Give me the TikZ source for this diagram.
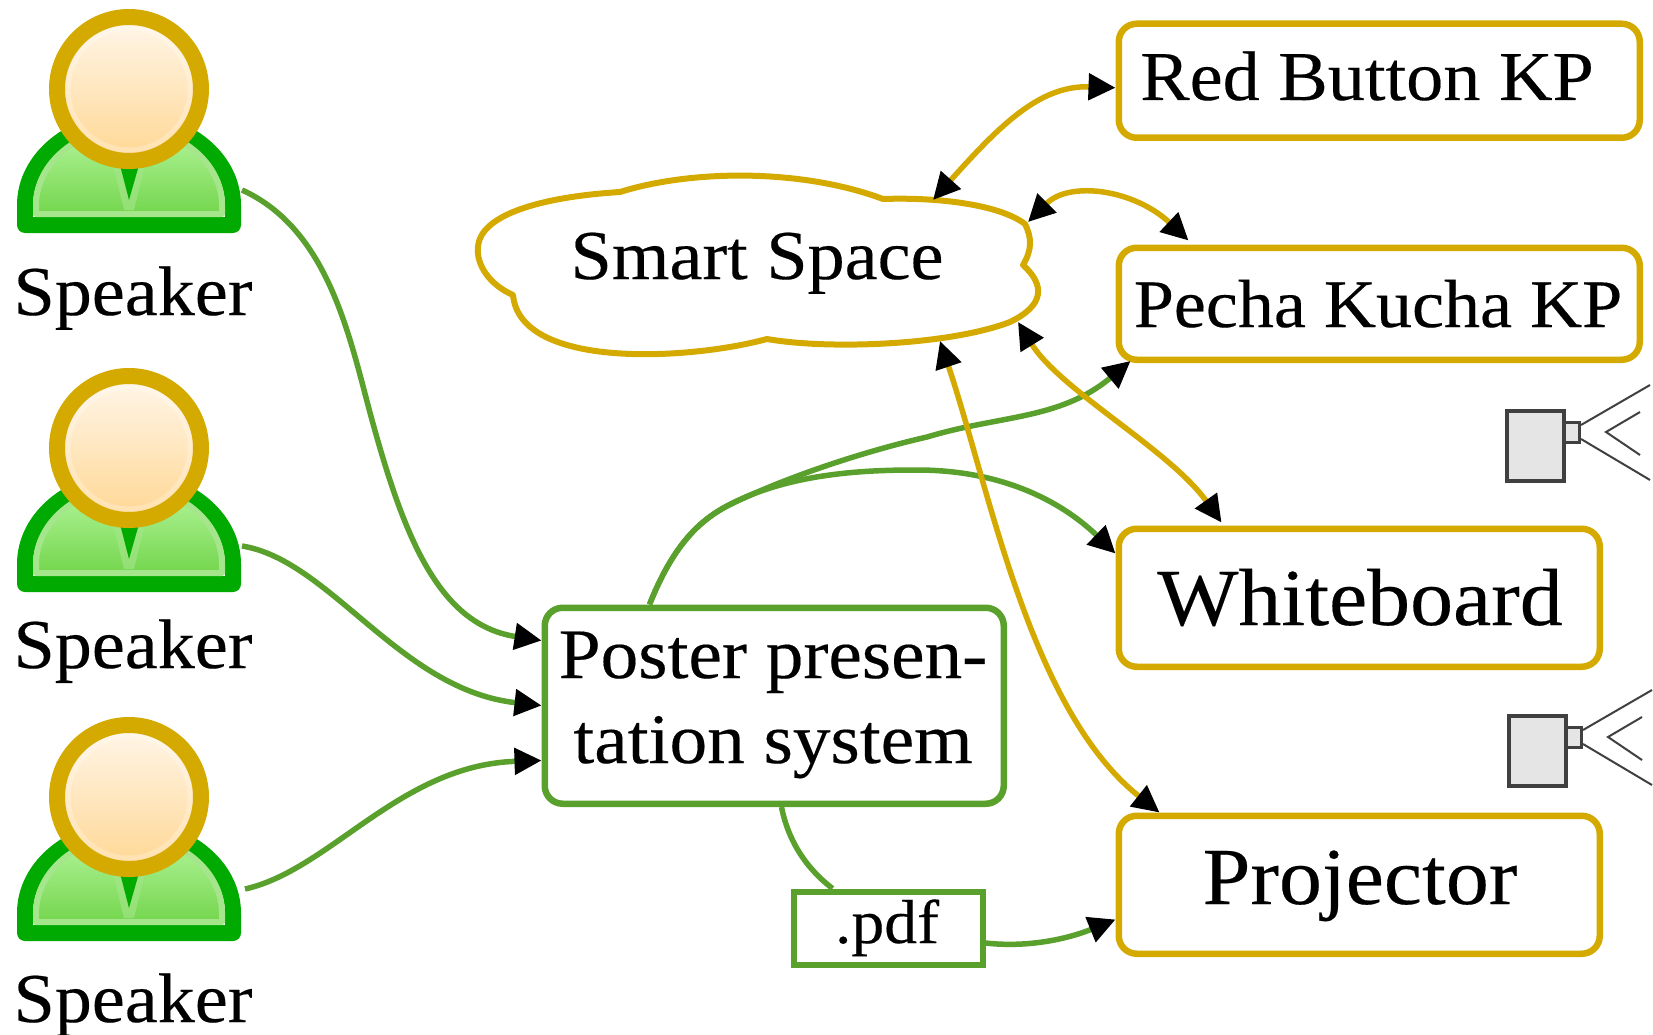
\documentclass[tikz,border=0pt]{standalone}
\usepackage{fontspec}
\setmainfont{Liberation Serif}[FakeStretch=1.06,FakeBold=0.25]
\usetikzlibrary{arrows.meta}
\definecolor{gold}{HTML}{D4AA00}
\definecolor{grn}{HTML}{5AA02C}
\definecolor{camgray}{HTML}{404040}
\definecolor{bodygreen}{HTML}{00AA00}
\definecolor{rimgreen}{HTML}{A5E68C}
\definecolor{toplight}{HTML}{B4F59B}
\definecolor{botlight}{HTML}{74D64E}
\definecolor{headtop}{HTML}{FFF6EA}
\definecolor{headbot}{HTML}{FFD793}
\tikzset{
 x=1pt,y=-1pt,
 kp/.style={draw=gold,line width=6.5pt,rounded corners=18pt,fill=white,inner sep=0pt,anchor=north west},
 sys/.style={draw=grn,line width=6.5pt,rounded corners=18pt,fill=white,inner sep=0pt,anchor=north west},
 gline/.style={draw=grn,line width=5.5pt},
 yline/.style={draw=gold,line width=5.5pt},
 onetip/.style={-{Triangle[black,length=27pt,width=26pt]}},
 bitip/.style={{Triangle[black,length=27pt,width=26pt]}-{Triangle[black,length=27pt,width=26pt]}},
 speakertext/.style={anchor=base,inner sep=0pt,font=\fontsize{70}{84}\selectfont},
 personpic/.pic={
  \path[draw=bodygreen,line width=16pt,line join=round,fill=white]
    (25,225) -- (25,205) .. controls (25,158) and (72,120) .. (129,120) .. controls (186,120) and (233,158) .. (233,205) -- (233,225) -- cycle;
  \path[top color=toplight,bottom color=botlight,draw=rimgreen,line width=6pt,line join=round]
    (36,214) -- (36,205) .. controls (36,163) and (78,128) .. (129,128) .. controls (180,128) and (222,163) .. (222,205) -- (222,214) -- cycle;
  \fill[rimgreen,opacity=.6] (113,165) -- (145,165) -- (134,210) -- (124,210) -- cycle;
  \fill[bodygreen] (120,165) -- (139,165) -- (129,200) -- cycle;
  \path[top color=headtop,bottom color=headbot,draw=gold,line width=16pt] (129,89) circle[radius=72pt];
  \draw[white,opacity=.25,line width=5pt] (129,89) circle[radius=61pt];
 },
 campic/.pic={
  \draw[camgray,line width=4pt,fill=black!10] (1507,411) rectangle (1564,481);
  \draw[camgray,line width=3pt,fill=black!10] (1564,422) rectangle (1579,442);
  \draw[camgray,line width=2pt] (1581,425) -- (1650,385);
  \draw[camgray,line width=2pt] (1581,439) -- (1650,480);
  \draw[camgray,line width=2pt] (1640,412) -- (1606,432) -- (1640,455);
 }
}
\begin{document}
\begin{tikzpicture}
\useasboundingbox (0,0) rectangle (1653,1035);

\pic at (0,0) {personpic};
\pic at (0,359) {personpic};
\pic at (0,708) {personpic};
\node[speakertext] (sp1) at (133,315) {Speaker};
\node[speakertext] (sp2) at (133,668) {Speaker};
\node[speakertext] (sp3) at (133,1022) {Speaker};

\pic at (0,0) {campic};
\pic at (2,305) {campic};

% cloud
\draw[gold,line width=6pt,fill=white,line join=round]
 (620,192) .. controls (690,170) and (800,168) .. (883,199)
 .. controls (940,197) and (1000,205) .. (1025,224)
 .. controls (1032,238) and (1032,250) .. (1023,265)
 .. controls (1045,285) and (1045,305) .. (1010,322)
 .. controls (950,345) and (830,350) .. (767,339)
 .. controls (690,360) and (520,370) .. (513,295)
 .. controls (490,285) and (476,265) .. (478,247)
 .. controls (480,215) and (540,197) .. (620,192) -- cycle;
\node[anchor=base,inner sep=0pt,font=\fontsize{70}{80}\selectfont] (cloud) at (757,279) {Smart Space};

\node[kp,minimum width=521pt,minimum height=114pt] (red) at (1115.5,20.5) {};
\node[anchor=base,inner sep=0pt,font=\fontsize{70}{80}\selectfont] (redt) at (1367,100) {Red Button KP};
\node[kp,minimum width=521pt,minimum height=112pt] (pecha) at (1115.5,244.5) {};
\node[anchor=base,inner sep=0pt,font=\fontsize{68}{80}\selectfont] (pechat) at (1378,327) {Pecha Kucha KP};
\node[kp,minimum width=481pt,minimum height=138pt] (white) at (1115.5,525.5) {};
\node[anchor=base,inner sep=0pt,font=\fontsize{81}{90}\selectfont] (whitet) at (1360,625) {Whiteboard};
\node[kp,minimum width=481pt,minimum height=138pt] (proj) at (1115.5,812.5) {};
\node[anchor=base,inner sep=0pt,font=\fontsize{81}{90}\selectfont] (projt) at (1360,904) {Projector};
\node[sys,minimum width=459pt,minimum height=196pt,align=center] (poster) at (541.5,604.5) {};
\node[anchor=base,inner sep=0pt,font=\fontsize{71}{80}\selectfont] (post1) at (773,678) {Poster presen-};
\node[anchor=base,inner sep=0pt,font=\fontsize{71}{80}\selectfont] (post2) at (773,763) {tation system};
\node[draw=grn,line width=6pt,inner sep=0pt,anchor=north west,minimum width=189pt,minimum height=73pt,fill=white] (pdf) at (790.5,888.5) {};
\node[anchor=base,inner sep=0pt,font=\fontsize{62}{70}\selectfont] (pdft) at (887,943) {.pdf};

% free ends on the person figures
\coordinate (s1o) at (242,190);
\coordinate (s2o) at (242,546);
\coordinate (s3o) at (245,889);
\coordinate (fork) at (727,506);

% green connectors
\draw[gline,onetip] (s1o) .. controls (330,230) and (350,340) .. (372,420)
   .. controls (405,540) and (440,625) .. ([yshift=-36pt]poster.north west);
\draw[gline,onetip] (s2o) .. controls (330,560) and (400,690) .. ([yshift=-101pt]poster.north west);
\draw[gline,onetip] (s3o) .. controls (330,870) and (400,765) .. ([yshift=-156pt]poster.north west);
\draw[gline,onetip] ([xshift=108pt]poster.north west) .. controls (672,548) and (697,522) .. (fork)
   .. controls (790,475) and (870,450) .. (927,437)
   .. controls (1000,415) and (1060,420) .. ([xshift=15pt,yshift=2pt]pecha.south west);
\draw[gline,onetip] ([xshift=108pt]poster.north west) .. controls (672,548) and (697,522) .. (fork)
   .. controls (790,472) and (870,470) .. (917,470)
   .. controls (1000,470) and (1060,500) .. ([yshift=-28pt]white.north west);
\draw[gline] ([xshift=240pt]poster.south west) .. controls (790,850) and (815,875) .. ([xshift=42pt]pdf.north west);
\draw[gline,onetip] ([yshift=-15pt]pdf.east) .. controls (1030,948) and (1070,938) .. ([yshift=-107pt]proj.north west);

% gold connectors
\coordinate (cr) at (933,200);
\coordinate (cp) at (1028,222);
\coordinate (cw) at (1018,322);
\coordinate (cj) at (940,341);
\draw[yline,bitip] (cr) .. controls (1000,125) and (1040,85) .. ([xshift=0pt,yshift=-7pt]red.west);
\draw[yline,bitip] (cp) .. controls (1070,180) and (1135,190) .. ([xshift=73pt,yshift=4pt]pecha.north west);
\draw[yline,bitip] (cw) .. controls (1060,390) and (1170,450) .. ([xshift=106pt,yshift=3pt]white.north west);
\draw[yline,bitip] (cj) .. controls (990,490) and (1030,710) .. ([xshift=44pt]proj.north west);
\end{tikzpicture}
\end{document}
